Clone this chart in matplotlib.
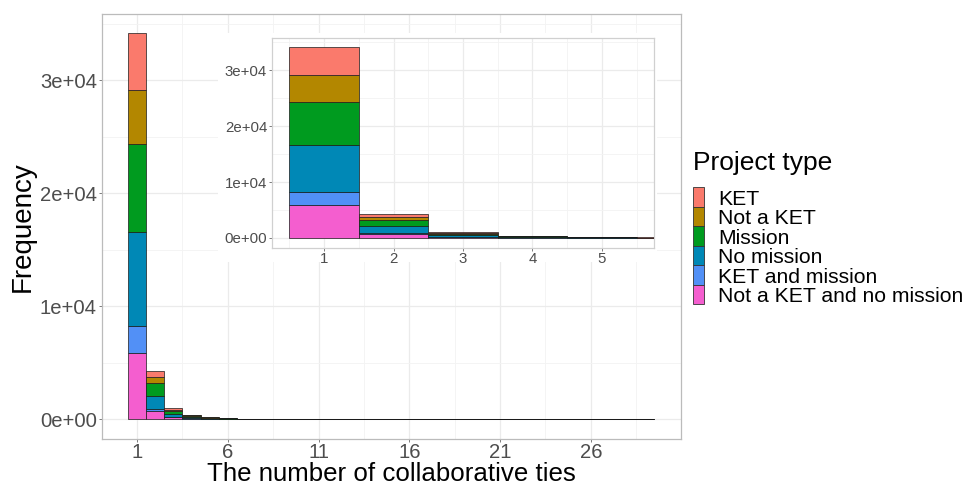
import numpy as np
import matplotlib
matplotlib.use("Agg")
import matplotlib.pyplot as plt
from matplotlib.patches import Rectangle

plt.rcParams['font.family'] = ['Liberation Sans', 'DejaVu Sans']

# number of collaborative ties (bins)
ties = np.arange(1, 30)

# project types, legend order (first one ends up on top of the stack)
types = ["KET", "Not a KET", "Mission", "No mission", "KET and mission",
         "Not a KET and no mission"]
colors = ["#FA7A6C", "#B38700", "#009B1F", "#0088B6", "#5290F6", "#F45ECF"]

# counts per bin
ket = [5030, 490, 180, 60, 30, 15, 8, 5, 3, 2, 2, 1, 1, 1, 1,
       0, 0, 1, 0, 0, 0, 0, 0, 0, 0, 0, 0, 0, 0]
not_ket = [4780, 560, 130, 50, 25, 12, 7, 4, 3, 2, 1, 1, 1, 1, 0,
           1, 0, 0, 0, 0, 0, 0, 0, 0, 0, 0, 0, 0, 0]
mission = [7800, 1115, 220, 90, 45, 22, 12, 7, 5, 3, 2, 2, 1, 1, 1,
           0, 1, 0, 0, 1, 0, 0, 0, 0, 0, 0, 0, 0, 0]
no_mission = [8300, 1175, 250, 100, 50, 24, 12, 7, 5, 4, 3, 2, 2, 1, 1,
              1, 1, 1, 1, 1, 0, 1, 0, 0, 1, 0, 0, 0, 1]
ket_mission = [2420, 150, 60, 30, 15, 7, 4, 3, 2, 1, 1, 1, 0, 0, 0,
               0, 0, 0, 0, 0, 0, 0, 0, 0, 0, 0, 0, 0, 0]
no_ket_no_mission = [5850, 750, 170, 60, 25, 15, 7, 4, 2, 2, 1, 1, 1, 0, 1,
                     0, 0, 0, 1, 0, 0, 0, 1, 0, 0, 0, 0, 1, 0]
counts = [ket, not_ket, mission, no_mission, ket_mission, no_ket_no_mission]

yticks = [0, 10000, 20000, 30000]
ytick_labels = ["0e+00", "1e+04", "2e+04", "3e+04"]

W, H = 967, 487


def px_box(x0, y0, x1, y1):
    # pixel box (top-left origin) -> figure fraction rect
    return [x0 / W, 1 - y1 / H, (x1 - x0) / W, (y1 - y0) / H]


def draw_hist(a):
    bottom = np.zeros(len(ties))
    for name, col, vals in reversed(list(zip(types, colors, counts))):
        vals = np.array(vals, dtype=float)
        a.bar(ties, vals, width=1, bottom=bottom, color=col,
              edgecolor="#1a1a1a", linewidth=0.5, zorder=3, label=name)
        bottom += vals
    return bottom


def style(a, xmaj, xmin, fs, border):
    a.set_yticks(yticks)
    a.set_yticklabels(ytick_labels)
    a.set_yticks([5000, 15000, 25000, 35000], minor=True)
    a.set_xticks(xmaj)
    a.set_xticks(xmin, minor=True)
    a.grid(which="major", color="#EBEBEB", linewidth=0.9, zorder=0)
    a.grid(which="minor", color="#F3F3F3", linewidth=0.6, zorder=0)
    a.set_axisbelow(True)
    a.tick_params(which="minor", length=0)
    a.tick_params(which="major", length=2.5, width=0.6, color="#666666",
                  labelcolor="#4D4D4D", labelsize=fs, pad=1)
    for s in a.spines.values():
        s.set_color(border)
        s.set_linewidth(0.9)


fig = plt.figure(figsize=(9.67, 4.87), dpi=100)

# main histogram
ax = fig.add_axes(px_box(101.7, 14, 680.7, 438.5))
ax.set_zorder(1)
totals = draw_hist(ax)
ymax = totals.max()
style(ax, [1, 6, 11, 16, 21, 26], [3.5, 8.5, 13.5, 18.5, 23.5, 28.5],
      14.6, "#BBBBBB")
ax.set_ylim(-0.05 * ymax, 1.05 * ymax)
ax.set_xlim(0.5 - 0.05 * 29, 29.5 + 0.05 * 29)
ax.set_xlabel("The number of collaborative ties", fontsize=18.6, labelpad=0)
ax.set_ylabel("Frequency", fontsize=20, labelpad=3)

# white plot background behind the inset
bg = fig.add_axes(px_box(218, 33, 657, 262))
bg.set_zorder(2)
bg.set_facecolor("white")
bg.set_xticks([])
bg.set_yticks([])
for s in bg.spines.values():
    s.set_visible(False)

# inset zoom on the first five bins
ins = fig.add_axes(px_box(272, 37.5, 654, 247.5))
ins.set_zorder(3)
draw_hist(ins)
style(ins, [1, 2, 3, 4, 5], [0.5, 1.5, 2.5, 3.5, 4.5, 5.5], 10.8, "#D0D0D0")
ins.set_xlim(0.25, 5.75)
ins.set_ylim(-0.05 * ymax, 1.05 * ymax)

# legend
fig.text(693 / W, 1 - 170 / H, "Project type", fontsize=19, ha="left",
         va="baseline", color="black")
key_h = 19.5
for i, (name, col) in enumerate(zip(types, colors)):
    top = 187.3 + i * key_h
    fig.patches.append(Rectangle((692.7 / W, 1 - (top + key_h) / H), 11.3 / W, key_h / H,
                                 transform=fig.transFigure, facecolor=col,
                                 edgecolor="#333333", linewidth=0.6))
    fig.text(718 / W, 1 - (top + key_h / 2 + 7.5) / H, name, fontsize=15.2,
             ha="left", va="baseline", color="black")

fig.savefig("out.png", dpi=100)
